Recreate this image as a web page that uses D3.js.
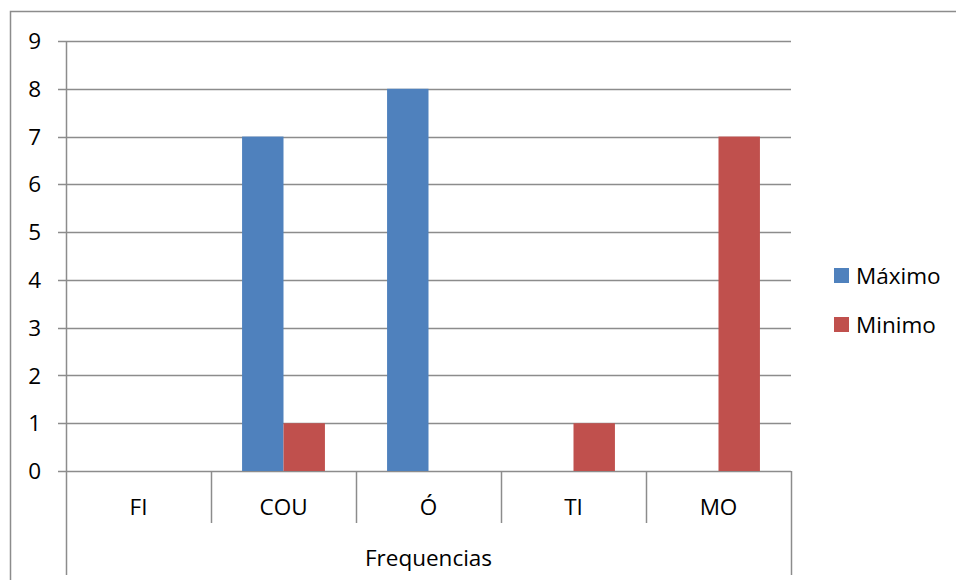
<!DOCTYPE html>
<html><head><meta charset="utf-8">
<script src="https://cdn.jsdelivr.net/npm/d3@7"></script>
<style>body{margin:0;background:#fff}svg{display:block}text{font-family:"Open Sans",sans-serif;fill:#000}</style>
</head><body><svg id="c" width="956" height="580"></svg>
<script>
const categories = ["FI","COU","Ó","TI","MO"];
const seriesNames = ["Máximo","Minimo"];
const maximo = [0,7,8,0,0];
const minimo = [0,1,0,1,7];
const yTicks = [0,1,2,3,4,5,6,7,8,9];
const colors = ["#4F81BD","#C0504D"];
const axisTitle = "Frequencias";

(function(){
const svg = d3.select("#c");
const fs = 22.5;
svg.append("rect").attr("x",10.5).attr("y",11.5).attr("width",960).attr("height",600)
  .attr("fill","none").attr("stroke","#8c8c8c").attr("stroke-width",1.5);

const L=66, R=791, T=41, B=471;
const x = d3.scaleBand().domain(categories).range([L,R]).paddingInner(0).paddingOuter(0);
const y = d3.scaleLinear().domain([0,9]).range([B,T]);
const xs = d3.scaleBand().domain(seriesNames).range([0,x.bandwidth()]).paddingInner(0).paddingOuter(0.75);

const grid = "#8c8c8c";
svg.append("g").selectAll("line").data(yTicks).join("line")
  .attr("x1",58).attr("x2",R).attr("y1",d=>Math.round(y(d))+0.5).attr("y2",d=>Math.round(y(d))+0.5)
  .attr("stroke",grid).attr("stroke-width",1.5);
svg.append("g").selectAll("text").data(yTicks).join("text")
  .attr("x",41).attr("y",d=>y(d)).attr("dy","0.36em").attr("text-anchor","end")
  .attr("font-size",fs).text(d=>d);

const data = [maximo,minimo];
data.forEach((arr,si)=>{
  svg.append("g").selectAll("rect").data(arr.map((v,i)=>({c:categories[i],v}))).join("rect")
    .attr("x",d=>x(d.c)+xs(seriesNames[si]))
    .attr("width",xs.bandwidth())
    .attr("y",d=>y(d.v)).attr("height",d=>y(0)-y(d.v))
    .attr("fill",colors[si]);
});

svg.append("line").attr("x1",L+0.5).attr("x2",L+0.5).attr("y1",T).attr("y2",575).attr("stroke",grid).attr("stroke-width",1.5);
svg.append("line").attr("x1",R+0.5).attr("x2",R+0.5).attr("y1",B).attr("y2",575).attr("stroke",grid).attr("stroke-width",1.5);
svg.append("g").selectAll("line").data(categories.slice(1)).join("line")
  .attr("x1",d=>Math.round(x(d))+0.5).attr("x2",d=>Math.round(x(d))+0.5).attr("y1",B).attr("y2",523)
  .attr("stroke",grid).attr("stroke-width",1.5);
svg.append("g").selectAll("text").data(categories).join("text")
  .attr("x",d=>x(d)+x.bandwidth()/2).attr("y",515).attr("text-anchor","middle")
  .attr("font-size",fs).text(d=>d);
svg.append("text").attr("x",(L+R)/2).attr("y",566).attr("text-anchor","middle").attr("font-size",fs).text(axisTitle);

const lg = svg.append("g");
seriesNames.forEach((n,i)=>{
  lg.append("rect").attr("x",834).attr("y",268+i*49).attr("width",15).attr("height",15).attr("fill",colors[i]);
  lg.append("text").attr("x",856).attr("y",284+i*49).attr("font-size",fs).text(n);
});
})();
</script></body></html>
